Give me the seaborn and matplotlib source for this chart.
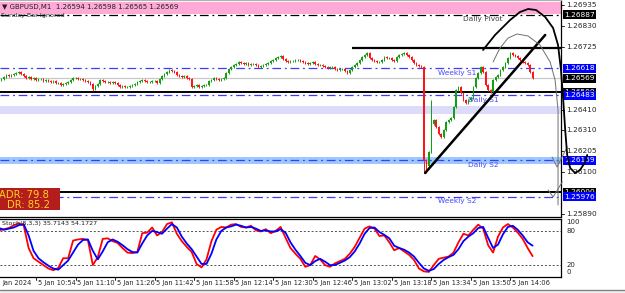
import matplotlib
matplotlib.use("Agg")
import numpy as np
import pandas as pd
import matplotlib.pyplot as plt
import seaborn as sns
from matplotlib.patches import Rectangle
from matplotlib.transforms import blended_transform_factory as blend

# ---------------- data ----------------
BASE = 1.26000
first_open_pts = 555
# M1 closes, in points (1e-5) above 1.26000, one per minute (minute 1 = 10:39)
close_pts = [
    560, 565, 575, 585, 580, 585, 590, 595, 600, 590,
    580, 570, 575, 565, 570, 560, 565, 565, 555, 560,
    555, 550, 555, 545, 545, 535, 540, 545, 550, 560,
    570, 570, 565, 565, 560, 555, 550, 540, 515, 530,
    540, 560, 555, 550, 550, 545, 550, 545, 535, 525,
    530, 525, 525, 530, 535, 540, 550, 555, 560, 555,
    550, 550, 555, 555, 545, 565, 580, 590, 600, 610,
    605, 600, 585, 580, 575, 580, 570, 565, 525, 530,
    535, 525, 530, 535, 535, 555, 560, 570, 565, 560,
    565, 570, 595, 615, 625, 635, 640, 650, 645, 640,
    645, 635, 640, 640, 635, 625, 630, 635, 640, 645,
    655, 660, 670, 675, 680, 665, 655, 650, 655, 655,
    660, 660, 655, 650, 645, 640, 645, 650, 640, 635,
    635, 630, 625, 620, 625, 625, 615, 610, 615, 615,
    605, 595, 610, 625, 635, 645, 660, 675, 685, 695,
    670, 660, 655, 650, 650, 660, 675, 670, 670, 660,
    655, 675, 685, 690, 695, 685, 675, 660, 645, 635,
    630, 625, 160, 130, 200, 340, 360, 325, 290, 275,
    310, 350, 360, 370, 425, 510, 525, 495, 460, 445,
    460, 470, 525, 570, 595, 625, 600, 535, 510, 500,
    560, 575, 585, 610, 625, 645, 670, 695, 685, 680,
    670, 660, 650, 645, 635, 600, 570,
]
minutes = list(range(1, len(close_pts) + 1))
low_spike_idx = [39, 173, 174]
low_spike_pts = [505, 100, 95]
high_spike_idx = [176]
high_spike_pts = [460]

stoch_min = list(range(1, 218, 2))
stoch_k = [
    81, 83, 85, 90, 93, 90, 50, 32, 26, 20,
    14, 11, 15, 32, 32, 63, 65, 66, 64, 20,
    34, 66, 67, 62, 59, 50, 42, 41, 43, 76,
    77, 86, 72, 78, 92, 95, 75, 62, 52, 43,
    22, 16, 30, 62, 82, 87, 86, 91, 92, 87,
    86, 89, 81, 79, 83, 76, 80, 87, 68, 50,
    40, 31, 17, 20, 36, 30, 20, 17, 23, 27,
    31, 40, 52, 68, 84, 88, 84, 71, 72, 60,
    46, 50, 44, 38, 29, 14, 9, 8, 20, 31,
    33, 35, 42, 60, 75, 72, 82, 91, 84, 55,
    42, 70, 86, 92, 86, 77, 66, 50, 35.7143,
]
stoch_d = [
    85, 82, 84, 86, 90, 92, 72, 45, 32, 25,
    19, 14, 12, 20, 28, 42, 56, 64, 65, 45,
    30, 44, 60, 65, 61, 55, 48, 43, 42, 58,
    72, 80, 78, 75, 84, 92, 86, 70, 58, 48,
    35, 22, 22, 40, 65, 80, 86, 88, 91, 89,
    86, 87, 84, 80, 81, 79, 79, 83, 77, 60,
    47, 36, 24, 20, 27, 31, 26, 20, 20, 24,
    28, 34, 44, 58, 75, 85, 86, 78, 73, 67,
    54, 50, 47, 42, 35, 24, 14, 10, 13, 22,
    29, 34, 38, 48, 62, 70, 76, 85, 87, 68,
    50, 56, 74, 87, 89, 82, 72, 60, 54.1727,
]

time_tick_min = [16, 32, 48, 64, 80, 96, 112, 128, 144, 160, 176, 192, 208]
time_labels = ["5 Jan 10:54", "5 Jan 11:10", "5 Jan 11:26", "5 Jan 11:42", "5 Jan 11:58",
               "5 Jan 12:14", "5 Jan 12:30", "5 Jan 12:46", "5 Jan 13:02", "5 Jan 13:18",
               "5 Jan 13:34", "5 Jan 13:50", "5 Jan 14:06"]

price_ticks = [1.26935, 1.26830, 1.26725, 1.26410, 1.26310, 1.26205, 1.26100, 1.25890]
box_prices = [1.26887, 1.26618, 1.26569, 1.26500, 1.26483, 1.26159, 1.26000, 1.25976]
box_colors = ["black", "#0000ff", "black", "black", "#0000ff", "#0000ff", "black", "#0000ff"]

pivot_names = ["Daily Pivot", "Weekly S1", "Daily S1", "Daily S2", "Weekly S2"]
pivot_prices = [1.26887, 1.26618, 1.26483, 1.26159, 1.25976]
pivot_label_min = [197, 186.4, 197, 197, 186.4]

# hand-drawn analysis objects (minute, price)
trend_min = [173.5, 222.1]
trend_px = [1.26095, 1.26785]
resist_min = [144, 228.5]
resist_px = [1.26720, 1.26720]
arc_min = [196.96, 201.8, 207.9, 211.9, 215.2, 218.4, 222.1, 225.3, 227.3, 228.5,
           229.4, 230.2, 231.0, 232.2, 234.2, 236.2, 238.3, 239.1]
arc_px = [1.26710, 1.26785, 1.26860, 1.26900, 1.26915, 1.26910, 1.26875, 1.26820, 1.26735, 1.26610,
          1.26460, 1.26310, 1.26185, 1.26120, 1.26095, 1.26110, 1.26150, 1.26185]
thin_min = [201.0, 203.8, 207.1, 210.7, 215.2, 220.0, 224.1, 226.1, 227.3, 227.3]
thin_px = [1.26650, 1.26720, 1.26770, 1.26790, 1.26780, 1.26735, 1.26650, 1.26560, 1.26410, 1.25935]
tick1_min = [224.9, 226.9, 231.0]
tick1_px = [1.26175, 1.26125, 1.26225]
tick2_min = [223.3, 225.3, 229.0]
tick2_px = [1.26010, 1.25975, 1.26050]

# ---------------- figure ----------------
sns.set_style("white")
plt.rcParams['font.family'] = ['DejaVu Sans']
W, H = 625, 293
fig = plt.figure(figsize=(W / 100, H / 100), dpi=100)
fig.patch.set_facecolor("white")


def fx(px):
    return px / W


def fy(py):
    return 1 - py / H


ax = fig.add_axes([0, fy(217), fx(561), 217 / H])
axs = fig.add_axes([0, fy(277), fx(561), 58 / H])
XL = (1.417, 228.5)
for a in (ax, axs):
    a.set_xlim(*XL)
    a.set_xticks([])
    a.set_yticks([])
    a.set_facecolor("white")
    a.spines['left'].set_visible(False)
    for s in ('right', 'bottom', 'top'):
        a.spines[s].set_color("black")
        a.spines[s].set_linewidth(0.9)
ax.spines['top'].set_color("#b0b0b0")
ax.set_ylim(1.25875, 1.26960)
axs.set_ylim(-0.9, 100.9)

# bands
ax.axhspan(1.26890, 1.26948, color="#ffaad6", lw=0, zorder=0)
ax.axhspan(1.26390, 1.26430, color="#dcdcfa", lw=0, zorder=0)
ax.axhspan(1.26140, 1.26175, color="#9cc8ff", lw=0, zorder=0)

dashdot = (0, (7, 3, 1.5, 3))
ax.axhline(1.26887, color="black", lw=0.9, ls=dashdot, zorder=1)
for p in pivot_prices[1:]:
    ax.axhline(p, color="#3c3cff", lw=0.9, ls=dashdot, zorder=1)
ax.axhline(1.26569, color="#c8c8c8", lw=0.9, zorder=1)
ax.axhline(1.26500, color="black", lw=1.4, zorder=1)
ax.axhline(1.26000, color="black", lw=1.4, zorder=1)
ax.plot(resist_min, resist_px, color="black", lw=1.6, zorder=4, solid_capstyle='butt')

for name, p, m in zip(pivot_names, pivot_prices, pivot_label_min):
    col = "#404040" if name == "Daily Pivot" else "#4646ff"
    ax.annotate(name, (m, p), xytext=(0, -1), textcoords="offset points",
                ha="center", va="top", fontsize=5.3, color=col, zorder=2)

# candles
close = BASE + np.array(close_pts) / 1e5
opn = np.concatenate([[BASE + first_open_pts / 1e5], close[:-1]])
hi = np.maximum(opn, close) + 0.00004
lo = np.minimum(opn, close) - 0.00004
idx = np.array(minutes)
for i, v in zip(low_spike_idx, low_spike_pts):
    lo[i - 1] = BASE + v / 1e5
for i, v in zip(high_spike_idx, high_spike_pts):
    hi[i - 1] = BASE + v / 1e5
up = close >= opn
cols = np.where(up, "#11a011", "#ff1414")
body = np.where(np.abs(close - opn) < 1e-7, 0.00002, close - opn)
ax.vlines(idx, lo, hi, colors=cols, lw=0.7, zorder=3)
ax.bar(idx, body, bottom=opn, width=0.62, color=cols, lw=0, zorder=3)

# analysis drawings
ax.plot(trend_min, trend_px, color="black", lw=1.8, zorder=5, solid_capstyle='round')
ax.plot(arc_min, arc_px, color="black", lw=1.3, zorder=6, clip_on=False)
ax.plot(thin_min, thin_px, color="#707070", lw=0.7, zorder=5, clip_on=False)
ax.plot(tick1_min, tick1_px, color="#707070", lw=0.7, zorder=5, clip_on=False)
ax.plot(tick2_min, tick2_px, color="#707070", lw=0.7, zorder=5, clip_on=False)

# right price scale
tr = blend(ax.transAxes, ax.transData)
for p in price_ticks:
    ax.plot([1.0, 1.006], [p, p], color="black", lw=0.6, transform=tr, clip_on=False)
    ax.text(1.009, p, f"{p:.5f}", transform=tr, fontsize=5.3, va="center", ha="left")
for p, c in zip(box_prices, box_colors):
    ax.text(1.006, p, f"{p:.5f}", transform=tr, fontsize=5.3, va="center", ha="left",
            color="white", zorder=5,
            bbox=dict(boxstyle="square,pad=0.18", fc=c, ec="none"))

# stochastic
sdf = pd.DataFrame({
    "minute": stoch_min * 2,
    "value": stoch_k + stoch_d,
    "line": ["K"] * len(stoch_min) + ["D"] * len(stoch_min),
})
for lvl in (80, 20):
    axs.axhline(lvl, color="#505050", lw=0.7, ls=(0, (2, 2)), zorder=1)
sns.lineplot(data=sdf, x="minute", y="value", hue="line",
             palette={"K": "#ff0000", "D": "#0000ff"}, hue_order=["K", "D"],
             legend=False, ax=axs, lw=1.3, zorder=3)
axs.set_xlabel("")
axs.set_ylabel("")
axs.set_xlim(*XL)
axs.set_ylim(-0.9, 100.9)
axs.set_xticks([])
axs.set_yticks([])
trs = blend(axs.transAxes, axs.transData)
for txt, v in zip(["100", "80", "20", "0"], [95.5, 80, 20, 8]):
    axs.text(1.009, v, txt, transform=trs, fontsize=5.0, va="center", ha="left")

# time axis
trt = blend(axs.transData, fig.transFigure)
for m, lab in zip(time_tick_min, time_labels):
    axs.plot([m, m], [fy(277), fy(280)], color="black", lw=0.6, transform=trt, clip_on=False)
    axs.text(m + 0.7, fy(283), lab, transform=trt, fontsize=4.8, va="center", ha="left")
fig.text(fx(2), fy(283), "Jan 2024", fontsize=4.8, va="center", ha="left")
fig.add_artist(plt.Line2D([0, 1], [fy(290), fy(290)], color="#808080", lw=1.0))
fig.patches.append(Rectangle((0, 0), 1, fy(290.5), transform=fig.transFigure,
                             fc="#f0f0f0", ec="none", zorder=0))

# header texts
fig.text(fx(2), fy(6.5), "\u25bc GBPUSD,M1  1.26594 1.26598 1.26565 1.26569", fontsize=5.0,
         va="center", ha="left", color="#202020")
fig.text(fx(1), fy(15), "Sunday Bar Ignored", fontsize=4.6, va="center", ha="left", color="#202020")
fig.text(fx(2), fy(223), "Stoch(8,3,3) 35.7143 54.1727", fontsize=4.6, va="center", ha="left",
         color="#202020")

# ADR box
fig.patches.append(Rectangle((0, fy(210)), fx(60), 22 / H, transform=fig.transFigure,
                             fc="#b51d1d", ec="none", zorder=4))
fig.text(fx(24), fy(194.5), "ADR: 79.8", fontsize=7.2, color="#ffd21e", va="center",
         ha="center", zorder=5)
fig.text(fx(29), fy(205), "DR: 85.2", fontsize=7.2, color="#ffd21e", va="center",
         ha="center", zorder=5)

fig.savefig("out.png", dpi=100, facecolor="white")
